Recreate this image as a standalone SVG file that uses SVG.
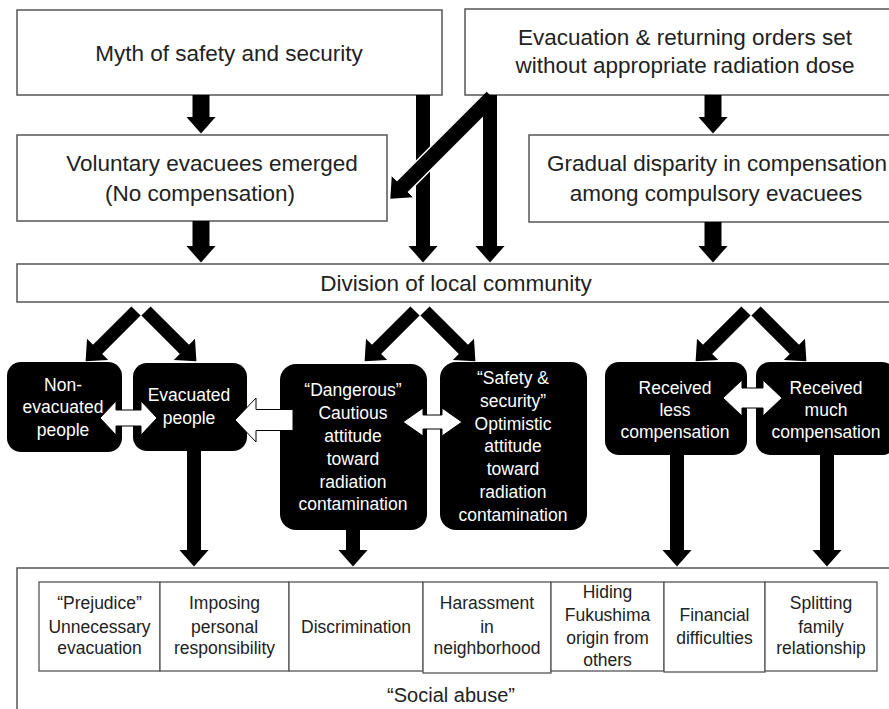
<svg xmlns="http://www.w3.org/2000/svg" width="889" height="709" viewBox="0 0 889 709">
<defs>
<style>
.box{fill:#fff;stroke:#555;stroke-width:1.5}
.blk{fill:#000}
.cell{fill:#fff;stroke:#555;stroke-width:1.3}
.t{font-family:"Liberation Sans",Arial,sans-serif;fill:#222;text-anchor:middle}
.big{font-size:22.5px}
.mid{font-size:17.5px}
.w{fill:#fff}
.arr{stroke:#000;fill:none}
.warr{fill:#fff;stroke:#000;stroke-width:1}
</style>
<marker id="head" markerUnits="userSpaceOnUse" viewBox="0 0 17 30" markerWidth="17" markerHeight="30" refX="0.5" refY="15" orient="auto">
<path d="M0,0 L17,15 L0,30 Z" fill="#000"/>
</marker>
</defs>
<rect width="889" height="709" fill="#fff"/>

<g id="myth">
<rect class="box" x="17" y="10" width="425" height="85"/>
<text class="t big" x="229" y="61">Myth of safety and security</text>
</g>
<g id="evacuation-orders">
<rect class="box" x="465" y="9" width="440" height="86"/>
<text class="t big" x="685" y="45">Evacuation &amp; returning orders set</text>
<text class="t big" x="685" y="73">without appropriate radiation dose</text>
</g>
<g id="voluntary">
<rect class="box" x="17" y="135" width="370" height="86"/>
<text class="t big" x="212" y="171">Voluntary evacuees emerged</text>
<text class="t big" x="200" y="201">(No compensation)</text>
</g>
<g id="gradual">
<rect class="box" x="529" y="135" width="376" height="87"/>
<text class="t big" x="717" y="171">Gradual disparity in compensation</text>
<text class="t big" x="716" y="201">among compulsory evacuees</text>
</g>
<g id="division">
<rect class="box" x="17" y="264" width="888" height="38"/>
<text class="t big" x="456" y="291">Division of local community</text>
</g>

<g id="non-evacuated">
<rect class="blk" x="7" y="362" width="115" height="90" rx="14"/>
<text class="t mid w" x="63" y="391">Non-</text>
<text class="t mid w" x="63" y="413">evacuated</text>
<text class="t mid w" x="63" y="436">people</text>
</g>
<g id="evacuated">
<rect class="blk" x="133" y="363" width="114" height="88" rx="14"/>
<text class="t mid w" x="189" y="401">Evacuated</text>
<text class="t mid w" x="189" y="424">people</text>
</g>
<g id="dangerous">
<rect class="blk" x="280" y="364" width="147" height="166" rx="16"/>
<text class="t mid w" x="353" y="396">“Dangerous”</text>
<text class="t mid w" x="353" y="419">Cautious</text>
<text class="t mid w" x="353" y="442">attitude</text>
<text class="t mid w" x="353" y="465">toward</text>
<text class="t mid w" x="353" y="488">radiation</text>
<text class="t mid w" x="353" y="510">contamination</text>
</g>
<g id="safety">
<rect class="blk" x="440" y="362" width="147" height="168" rx="16"/>
<text class="t mid w" x="513" y="384">“Safety &amp;</text>
<text class="t mid w" x="513" y="407">security”</text>
<text class="t mid w" x="513" y="430">Optimistic</text>
<text class="t mid w" x="513" y="452">attitude</text>
<text class="t mid w" x="513" y="475">toward</text>
<text class="t mid w" x="513" y="498">radiation</text>
<text class="t mid w" x="513" y="521">contamination</text>
</g>
<g id="received-less">
<rect class="blk" x="605" y="362" width="142" height="93" rx="14"/>
<text class="t mid w" x="675" y="394">Received</text>
<text class="t mid w" x="675" y="416">less</text>
<text class="t mid w" x="675" y="438">compensation</text>
</g>
<g id="received-much">
<rect class="blk" x="756" y="362" width="140" height="93" rx="14"/>
<text class="t mid w" x="826" y="394">Received</text>
<text class="t mid w" x="826" y="416">much</text>
<text class="t mid w" x="826" y="438">compensation</text>
</g>

<g id="social-abuse">
<rect class="box" x="17" y="568" width="888" height="160"/>
<rect class="cell" x="39" y="582" width="121" height="89"/>
<rect class="cell" x="160" y="582" width="129" height="89"/>
<rect class="cell" x="289" y="582" width="134" height="89"/>
<rect class="cell" x="423" y="582" width="128" height="91"/>
<rect class="cell" x="551" y="582" width="113" height="89"/>
<rect class="cell" x="664" y="582" width="101" height="90"/>
<rect class="cell" x="765" y="582" width="112" height="89"/>
<text class="t mid" x="99.5" y="609">“Prejudice”</text>
<text class="t mid" x="99.5" y="633">Unnecessary</text>
<text class="t mid" x="99.5" y="654">evacuation</text>
<text class="t mid" x="224.5" y="609">Imposing</text>
<text class="t mid" x="224.5" y="633">personal</text>
<text class="t mid" x="224.5" y="654">responsibility</text>
<text class="t mid" x="356" y="633">Discrimination</text>
<text class="t mid" x="487" y="609">Harassment</text>
<text class="t mid" x="487" y="633">in</text>
<text class="t mid" x="487" y="654">neighborhood</text>
<text class="t mid" x="607.5" y="598">Hiding</text>
<text class="t mid" x="607.5" y="621">Fukushima</text>
<text class="t mid" x="607.5" y="644">origin from</text>
<text class="t mid" x="607.5" y="666">others</text>
<text class="t mid" x="714.5" y="621">Financial</text>
<text class="t mid" x="714.5" y="644">difficulties</text>
<text class="t mid" x="821" y="609">Splitting</text>
<text class="t mid" x="821" y="633">family</text>
<text class="t mid" x="821" y="654">relationship</text>
<text class="t" style="font-size:20px" x="451" y="702">“Social abuse”</text>
</g>

<g id="connectors">
<line class="arr" stroke-width="17" x1="201" y1="95" x2="201" y2="117" marker-end="url(#head)"/>
<line class="arr" stroke-width="17" x1="201" y1="221" x2="201" y2="246" marker-end="url(#head)"/>
<line class="arr" stroke-width="14" x1="423" y1="95" x2="423" y2="246" marker-end="url(#head)"/>
<line class="arr" stroke-width="14" x1="490" y1="95" x2="490" y2="246" marker-end="url(#head)"/>
<line stroke="#fff" stroke-width="18" x1="446" y1="143" x2="404" y2="185"/>
<line class="arr" stroke-width="15" x1="492" y1="97" x2="402" y2="187" marker-end="url(#head)"/>
<line class="arr" stroke-width="17" x1="713" y1="95" x2="713" y2="117" marker-end="url(#head)"/>
<line class="arr" stroke-width="17" x1="713" y1="222" x2="713" y2="246" marker-end="url(#head)"/>

<line class="arr" stroke-width="13" x1="136" y1="311" x2="97.3" y2="349.7" marker-end="url(#head)"/>
<line class="arr" stroke-width="13" x1="146" y1="311" x2="184.7" y2="349.7" marker-end="url(#head)"/>
<line class="arr" stroke-width="13" x1="415" y1="311" x2="376.3" y2="349.7" marker-end="url(#head)"/>
<line class="arr" stroke-width="13" x1="425" y1="311" x2="463.7" y2="349.7" marker-end="url(#head)"/>
<line class="arr" stroke-width="13" x1="746" y1="311" x2="707.3" y2="349.7" marker-end="url(#head)"/>
<line class="arr" stroke-width="13" x1="756" y1="311" x2="794.7" y2="349.7" marker-end="url(#head)"/>

<line class="arr" stroke-width="14" x1="194" y1="451" x2="194" y2="550" marker-end="url(#head)"/>
<line class="arr" stroke-width="14" x1="353" y1="530" x2="353" y2="550" marker-end="url(#head)"/>
<line class="arr" stroke-width="14" x1="677" y1="455" x2="677" y2="550" marker-end="url(#head)"/>
<line class="arr" stroke-width="14" x1="827" y1="455" x2="827" y2="550" marker-end="url(#head)"/>

<polygon class="warr" points="100,418 116,401 116,410 141,410 141,401 157,418 141,435 141,426 116,426 116,435"/>
<polygon class="warr" points="235,420 256,398 256,409.5 293,409.5 293,430.5 256,430.5 256,442"/>
<polygon class="warr" points="403,422 423,408 423,415 442,415 442,408 462,422 442,436 442,429 423,429 423,436"/>
<polygon class="warr" points="723,398 742,380 742,388 763,388 763,380 782,398 763,416 763,408 742,408 742,416"/>
</g>
</svg>
